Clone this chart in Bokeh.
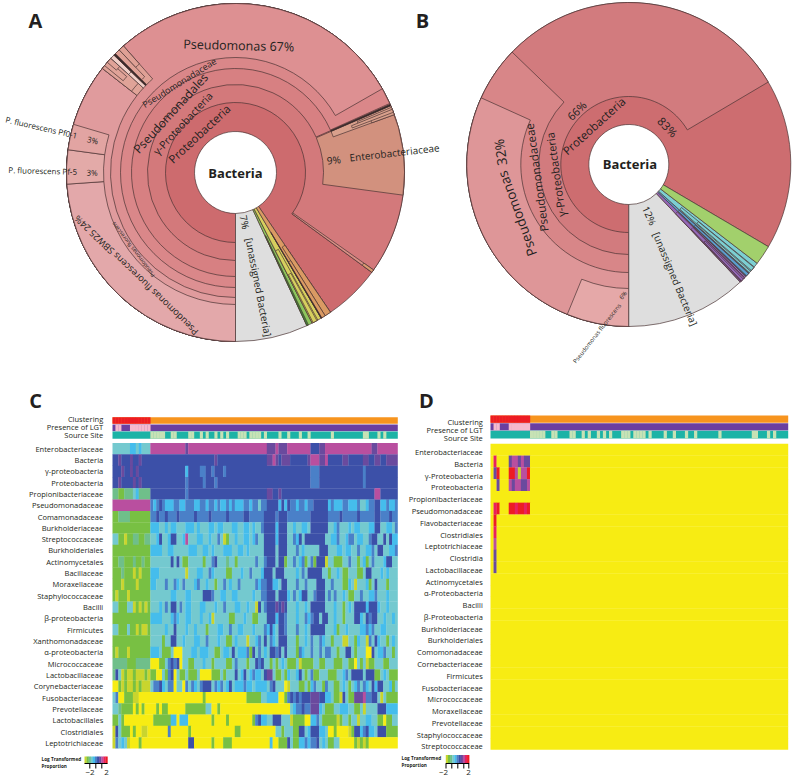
import math, re
from bokeh.plotting import figure
from bokeh.models import ColumnDataSource, Range1d
from bokeh.transform import linear_cmap
from bokeh.core.properties import value
from bokeh.embed import file_html
from bokeh.resources import INLINE

# ---------- DATA: panel A hierarchy (share of the circle in %, from the bottom, clockwise) ----------
a_names = ["Proteobacteria", "γ-Proteobacteria", "Pseudomonadales", "Pseudomonadaceae", "Pseudomonas",
           "Pseudomonas fluorescens", "SBW25", "Pf-5", "Pf0-1",
           "other a", "other a1", "other a2", "other a3", "other b", "other b1", "other c", "other d", "other d1", "other d2",
           "Enterobacteriaceae", "Entero strip", "Entero line", "Entero h1", "Entero h2", "Entero h3",
           "thin", "thin tip", "[unassigned Bacteria]", "green", "green dark", "yellow", "yellow h1", "yellow h2",
           "orange", "orange h1", "orange h2", "orange line"]
a_start = [0, 0, 0, 0, 0, 0, 0, 23.9, 27.15,
           35.56, 35.56, 35.9, 36.3, 36.81, 36.81, 37.22, 37.42, 37.42, 37.92,
           68.53, 68.53, 68.40, 68.70, 69.0, 68.9,
           84.78, 84.78, 93.06, 92.5, 92.9, 91.53, 91.9, 92.0,
           90.5, 90.5, 91.1, 91.47]
a_span = [90.5, 85.06, 68.4, 68.3, 66.75, 35.56, 23.9, 3.25, 2.45,
          1.25, 1.25, 0.6, 0.5, 0.41, 0.41, 0.2, 1.05, 0.5, 0.55,
          8.61, 0.91, 0.13, 0.3, 0.44, 0.3,
          0.28, 0.28, 6.94, 0.56, 0.16, 0.97, 0.6, 0.4,
          1.03, 0.6, 0.43, 0.08]
a_level = [1, 2, 3, 4, 5, 6, 7, 7, 7,
           6, 7, 8, 9, 6, 8, 6, 6, 7, 8,
           3, 4, 4, 7, 8, 6,
           2, 9, 1, 1, 2, 1, 3, 5,
           1, 3, 4, 2]

# ---------- DATA: panel B hierarchy ----------
b_names = ["Proteobacteria", "γ-Proteobacteria", "Pseudomonadaceae", "Pseudomonas", "Pseudomonas fluorescens",
           "[unassigned Bacteria]", "purple", "purple a", "purple b", "purple c", "blue", "blue a", "blue b",
           "teal", "teal a", "teal b", "green"]
b_start = [0, 0, 0, 0, 0, 87.92, 87.14, 87.3, 87.35, 87.5, 86.64, 86.7, 86.75, 85.44, 85.9, 85.95, 83.47]
b_span = [83.47, 66.5, 37.2, 31.75, 6.2, 12.08, 0.78, 0.6, 0.45, 0.25, 0.5, 0.4, 0.3, 1.2, 0.55, 0.4, 1.97]
b_level = [1, 2, 3, 4, 5, 1, 1, 2, 3, 4, 1, 2, 3, 1, 2, 3, 1]

# ---------- DATA: heat maps (run-length: class letter + number of samples) ----------
heat_classes = "YyGgtcbBPMRr"
heat_values = [-2.75, -2.25, -1.75, -1.25, -0.75, -0.25, 0.25, 0.75, 1.25, 1.75, 2.25, 2.75]

c_labels = ["Enterobacteriaceae", "Bacteria", "γ-proteobacteria", "Proteobacteria", "Propionibacteriaceae",
            "Pseudomonadaceae", "Comamonadaceae", "Burkholderiaceae", "Streptococcaceae", "Burkholderiales",
            "Actinomycetales", "Bacillaceae", "Moraxellaceae", "Staphylococcaceae", "Bacilli", "β-proteobacteria",
            "Firmicutes", "Xanthomonadaceae", "α-proteobacteria", "Micrococcaceae", "Lactobacillaceae",
            "Corynebacteriaceae", "Fusobacteriaceae", "Prevotellaceae", "Lactobacillales", "Clostridiales",
            "Leptotrichiaceae"]
c_rows = [
 "t6c2t1c1t3 M12P1M27P3M1P3M8B3P2M16P2M7",
 "B2P1B3P1B2P1B3 B22P1B17P2M1P1B1P3B6P1M3P2M1B5P2B5P2B2P2B2P4",
 "B3P1B2P1B1P1B4 B12c1B4b2B2b1B3b1B29b3B15b1B11",
 "B2P1B4P1B1P1B3 B12b1B5b1B3b1B32b3B15b1B11",
 "g2G2g3t1c1g4 B12b1B27P2B2P1B32M2B6",
 "M13 b1c1b1B1b1c3b2c2b3c2b2c1b2c1b1c2b1c1b1c3b2c1b2t1b2B4c1B1c1B1b2c1b2c1b2B5c1b1c3b2c3b1t2c1b2B2c2b1c2b2",
 "G2g4G7 b2B1b2B1b3B1b5B1b4B1b5B1b5B2b5B4b1B3b8B6b4B1b5B1b5B2b3B1b3",
 "G13 c3t2c1t1c2t3c3t1c1t3c2t1c2t3c2t2c2t1c1t2b1B4c1B3t2c1t2c2t1B6t2c1b1t3c1t1c2t3c2B2t2c2t1b1t1",
 "t2G2y1G2g2G2g2 t2c1B1t2c1B2t2c1M1t3c2t2c1t2b1t1y1G1t2c1t2c2t1c1b1t2B4c1B3t2b1c1B1t1B7t2c2b1t2c1b2t1c2t2b1B2t2B1t1B1c2",
 "G13 c4t2c2t5c3t2c2t1c1t3c3t2c2t1c1t2t3B4t1B3t3b1t1c1t2t3B3t3c2t1c2t2b1t2c2b1t1B2t2c2b1t2",
 "G2g2G3g1G2g1G2 t7B1t1B1t1G2t5G1t2b1B1t3g1t2G1t3t3b1t2b1B3t1B2G1t2b1t1c1b1G1t1b1G1B3y1t2G3t2b1t2G1t1c1G1t1b1t3c1B2t2",
 "G3g1G3y1G1y1G3 c3t9y1t3c2t2b1c1t4G2t3c1t2b1t3c1B3t1B3t4c1t1b1t1B5t2G1t2c1t1G2t3G2t1B2t3c1t1c1t1",
 "G3y1G4y1G4 c2t3b1t2b1c1t1b1t3c1b1t2c1t2G1t2b1t1c1t2b1t3t2b1c1b1b1B2c2t1B2t3b1t2b1t3B3t2b1t3G2c1t1y1t3c1G1t1B1t3G1t3",
 "G1y1G3y1G7 t7c2t3c2t4B3b1t2c2t2c2t2t3c1t2b1b1B3t1B3c1t1b1t1c1B2t2b1B3t1b1t1b1t2c1t1G2t2b1t2c2b1t3c1t3",
 "t2G3t2y1G1y1G1y1G1 t3c1t1b1t1B2t1b1t1c2t3c2t3c1t2b1t3c2t2c1t2y1B1t1b1B3P1B1P1B1t3c1t2c1t1B5t3c1t2G1t1c1t1B4c1B3c1t2c1t3",
 "G13 c4t3c1b1c1t2c2t3c1t2c1y1t5G2t3c1t2G2t2t1B3c1B2b1t3c1t2b1c1b1B2t1B2t2c1t2G1t2t1B2c1t1B1b1B2t2c1t2c1t1",
 "t2G3t1G2y1G1y2G1 t5c1t2B1t3c1t2c1t3G1t3c2t2b1t2c2t3c1t2t1b1c1B1c1t1B2b1t3b1t2c1t1B5t3c1G1t2c1t2t2c2b1c1b1t2c2t3t1",
 "G13 t4G1t2B2t2c1t3c2t2b1t3c1t2G2t1c1t1t2y1t2c1b1t1B1t1b1c1t1B3t3G1t2c1t1b1t2b1c1t2G1t2t1y2t2G1c1t2y1b1t1B1c1t2G1t1c1t1",
 "G1y1G3y1G7 c3t1G3t1Y3t3c2t1c3t2G2t1c2t1B1t1c3b1G1B1t1b1t1c1t1B2b1B1t1B1t3G1b1c1t2b1t2b1t1b2t2G1t1t1B2t1G1t2t1Y2B1t1c2b1t2G1t1t1",
 "g5G3g5 Y3G2t1b1B1b1B1Y1t2G2t3c1t2G1t1t3G2t1b1t3G1t2B1b1B1t2G1t1G1t1c1t1G3t1y1G4t2G2t3G3t2G2Y1t1G1t1y1G2t3G2t3",
 "g1B1t1y1G1y2G1y3G1y1 G2Y2t1G1b1B1Y1t1G2t1G3t1Y4G3t1G1t1t2B1t1c1B1t1c1b1c2t1B1P2t1G2t1G1c1t2c1B1t1G1t1b1G2t1t2G3t2c1b1t1B4t1B3G2t1c1t1G2",
 "Y2G1y1G1y2G1y1G1y3 t1b2B1c1t1b2Y1t2Y1b1t1b1c1t1b1B3t1b1c1b1t1c1B1t1c3b1c2t1c3c1t1b1B1t1t2Y1y1t3G2t1G1c1b1t2G1b1t2G2t1c1t1G1t1c1b1t1b1c1t1B1c1B2t2c1G1t1G1",
 "t1b1Y2G3y2Y4 Y18G1Y14G5t2c4Y2G1b1B1b1B1b1B3P3B2c2t1G2y1B1t1G2P3M1b2B2t1y1t1G4",
 "t2g1G4Y1G1Y1G1Y2 Y2G1Y1G2Y6G7t2Y2G1Y24t1c1b2B1b2P3c1t1G3t2c3t2G2t1y1t4B3c4",
 "G2t1G1Y9 Y1G6c2Y1c3Y8G1Y4G1Y8G1b1B1c2t2B3t3y1G4Y2c2b1t1G5y1G1t2G1t2y1t2c2t2G2Y1G2t2",
 "y1B1t1G3Y1G1Y2y2Y1 Y6b1Y6G1Y15G2Y12t2G1t3G2B2t1c1B3c2t1Y2G1Y4y1G1B2c1b1B1c2t1B3G4",
 "y1b1t1c1t1y1Y3G1Y3 Y13B2Y6G1Y3G3Y13c1Y2G3B1t1G2c2b1c1b2B1t1c1t1G2t2Y5G1y1G1y1G1Y10",
]

d_labels = ["Enterobacteriaceae", "Bacteria", "γ-Proteobacteria", "Proteobacteria", "Propionibacteriaceae",
            "Pseudomonadaceae", "Flavobacteriaceae", "Clostridiales", "Leptotrichiaceae", "Clostridia",
            "Lactobacillaceae", "Actinomycetales", "α-Proteobacteria", "Bacilli", "β-Proteobacteria",
            "Burkholderiaceae", "Burkholderiales", "Comomonadaceae", "Cornebacteriaceae", "Firmicutes",
            "Fusobacteriaceae", "Micrococcaceae", "Moraxellaceae", "Prevotellaceae", "Staphylococcaceae",
            "Streptococcaceae"]
d_rows = ["Y98", "Y1R1Y4P1M2P1M1P2Y85", "Y1P1r1Y3r2M1y1M2r1Y85", "Y2P1Y3M1P1M2P2M1Y85", "Y98",
          "Y1R1r1Y3r2R1r2R1r1Y85", "Y1r1Y96", "Y1R1Y96", "Y1M1Y96", "Y1P1Y96", "Y1P1Y96"] + ["Y98"] * 15

n_samples = 98
n_cluster_1 = 13
lgt_pink_samples = [1, 2, 6, 7, 8, 9, 10, 11, 12]
site_pale_samples = [13, 14, 15, 16, 17, 20, 21, 26, 27, 30, 32, 35, 37, 39, 43, 44, 45, 47, 48, 49, 50, 52,
                     57, 60, 64, 67, 75, 86, 87, 91, 93]
annotation_labels = ["Clustering", "Presence of LGT", "Source Site"]

# ---------- STYLE ----------
a_colors = ["#cd6b6e", "#d3797b", "#d78082", "#da8789", "#dd9092", "#e09b9d", "#e3a8aa", "#e3aaa8", "#e2a4a2",
            "#e0a398", "#e0a398", "#e0a398", "#e0a398", "#f0cfc8", "#f0cfc8", "#3a2a2a", "#dfa095", "#dfa095", "#dfa095",
            "#d2917e", "#d9a08c", "#222222", "#d9a08c", "#d9a08c", "#d9a08c",
            "#d88f85", "#d99a70", "#dedede", "#8cc65c", "#3f8a3a", "#d6cf5e", "#d6cf5e", "#d6cf5e",
            "#da9a63", "#da9a63", "#da9a63", "#222222"]
b_colors = ["#cd6d70", "#d27b7e", "#d88688", "#de9698", "#e5a8a8", "#dedede",
            "#9468b8", "#9468b8", "#9468b8", "#9468b8", "#5b9ecf", "#5b9ecf", "#5b9ecf",
            "#7ccfd2", "#7ccfd2", "#7ccfd2", "#a2d06c"]
a_inner = [0, 41, 70, 88, 104, 115, 125, 132, 145, 157]
b_inner = [0, 40, 68, 90, 108, 124]
heat_palette = ["#f7ec13", "#c9d52e", "#78c043", "#6fbf8a", "#74c9cf", "#45bdec", "#4a80c8", "#3c50a8",
                "#6a4a9e", "#b94f9f", "#e8205f", "#ed1c24"]
FONT = value("Open Sans")
INK = "#231f20"

W, H = 794, 779
def Y(py):
    return 779 - py

p = figure(width=W, height=H, x_range=Range1d(0, 794), y_range=Range1d(0, 779),
           toolbar_location=None, output_backend="svg", min_border=0)
p.axis.visible = False
p.grid.visible = False
p.outline_line_color = None
p.background_fill_color = "white"
p.border_fill_color = "white"

def sunburst(names, start, span, level, colors, inner, cx, cy, R):
    src = ColumnDataSource(dict(
        x=[cx] * len(names), y=[Y(cy)] * len(names), name=names,
        ri=[inner[l] for l in level], ro=[R] * len(names),
        a0=[math.radians(270 - 3.6 * (s + w)) for s, w in zip(start, span)],
        a1=[math.radians(270 - 3.6 * s) for s in start],
        c=colors))
    p.annular_wedge(x="x", y="y", inner_radius="ri", outer_radius="ro", start_angle="a0", end_angle="a1",
                    fill_color="c", line_color="#4b3434", line_width=0.7, source=src)

sunburst(a_names, a_start, a_span, a_level, a_colors, a_inner, 235, 172, 169)
sunburst(b_names, b_start, b_span, b_level, b_colors, b_inner, 628.3, 164, 162)

def labels(items, align="center", bold=False, color=INK):
    src = ColumnDataSource(dict(x=[i[0] for i in items], y=[Y(i[1]) for i in items], t=[i[2] for i in items],
                                a=[math.radians(i[3]) for i in items], s=["%.1fpx" % i[4] for i in items]))
    p.text(x="x", y="y", text="t", angle="a", text_font_size="s", text_font=FONT, text_align=align,
           text_baseline="middle", text_color=color, text_font_style="bold" if bold else "normal", source=src)

def polar(cx, cy, r, th, txt, rot, size):
    return (cx + r * math.cos(math.radians(th)), cy - r * math.sin(math.radians(th)), txt, rot, size)

labels([
    polar(235, 172, 53, 133, "Proteobacteria", 43, 11.5),
    polar(235, 172, 72, 137, "γ-Proteobacteria", 47, 10.5),
    polar(235, 172, 88, 137.5, "Pseudomonadales", 47.5, 12),
    polar(235, 172, 106, 122, "Pseudomonadaceae", 32, 9),
    polar(235, 172, 127, 88.5, "Pseudomonas 67%", -1.5, 12.5),
    (41, 126.7, "P. fluorescens Pf0-1", -13, 8),
    (92.3, 139.3, "3%", -13, 8),
    (42.3, 170, "P. fluorescens Pf-5", -1.5, 8),
    (91.7, 171.7, "3%", -1.5, 8),
    polar(235, 172, 143, 226, "Pseudomonas fluorescens SBW25 24%", 136, 9.3),
    polar(235, 172, 128, 217, "Pseudomonas fluorescens", 127, 5.5),
    (333.3, 159.3, "9%", 6.5, 10),
    (394, 152, "Enterobacteriaceae", 6.5, 10),
    (244.3, 221.7, "7%", -79, 10),
    (258.3, 286.7, "[unassigned Bacteria]", -79, 10),
    polar(628.3, 164, 52, 132, "Proteobacteria", 42, 11.5),
    polar(628.3, 164, 54, 44, "83%", -46, 11.5),
    polar(628.3, 164, 74, 188, "γ-Proteobacteria", 98, 11),
    polar(628.3, 164, 75, 134, "66%", 44, 11),
    polar(628.3, 164, 93, 188, "Pseudomonadaceae", 98, 11.5),
    (516.7, 213, "Pseudomonas", 110, 13.5),
    (500, 151.7, "32%", 98, 13.5),
    (649, 215, "12%", -65, 10),
    (675, 278.3, "[unassigned Bacteria]", -67.4, 10),
    (596.7, 333, "Pseudomonas fluorescens", 52, 6),
    (622.7, 295, "6%", 52, 6),
])
labels([(235, 172.5, "Bacteria", 0, 13), (629.5, 163.5, "Bacteria", 0, 13),
        (35, 19.5, "A", 0, 20), (422, 19.5, "B", 0, 20), (35, 399.5, "C", 0, 20), (426, 399.5, "D", 0, 20)], bold=True)

def decode(rows):
    out = []
    for row in rows:
        vals = []
        for ch, n in re.findall(r"([A-Za-z])(\d+)", row):
            vals += [heat_values[heat_classes.index(ch)]] * int(n)
        vals = (vals + vals[-1:] * n_samples)[:n_samples]
        out.append(vals)
    return out

def heat(rows, x0, x1, y0, y1):
    m = decode(rows)
    cw = (x1 - x0) / n_samples
    rh = (y1 - y0) / len(m)
    L, Rr, T, B, V = [], [], [], [], []
    for i, vals in enumerate(m):
        j = 0
        while j < n_samples:
            k = j
            while k + 1 < n_samples and vals[k + 1] == vals[j]:
                k += 1
            L.append(x0 + j * cw)
            Rr.append(min(x0 + (k + 1) * cw + 0.25, x1))
            T.append(Y(y0 + i * rh))
            B.append(Y(min(y0 + (i + 1) * rh + 0.25, y1)))
            V.append(vals[j])
            j = k + 1
    p.quad(left="left", right="right", top="top", bottom="bottom", line_color=None,
           fill_color=linear_cmap("v", heat_palette, low=-3, high=3),
           source=ColumnDataSource(dict(left=L, right=Rr, top=T, bottom=B, v=V)))

def bar(samples, x0, x1, y0, y1, base, alt):
    cw = (x1 - x0) / n_samples
    p.quad(left=[x0], right=[x1], top=[Y(y0)], bottom=[Y(y1)], fill_color=base, line_color=None)
    if samples:
        p.quad(left=[x0 + s * cw for s in samples], right=[x0 + (s + 1) * cw + 0.2 for s in samples],
               top=[Y(y0)] * len(samples), bottom=[Y(y1)] * len(samples), fill_color=alt, line_color=None)

def panel(rows, names, x0, x1, y0, y1, lab_x, ann, ann_lab_y, lab_shift):
    bar(list(range(n_cluster_1)), x0, x1, ann[0][0], ann[0][1], "#f7941e", "#ed1c24")
    bar(lgt_pink_samples, x0, x1, ann[1][0], ann[1][1], "#6b3fa0", "#f6b9cd")
    bar(site_pale_samples, x0, x1, ann[2][0], ann[2][1], "#1cb3a6", "#c7e2b5")
    heat(rows, x0, x1, y0, y1)
    rh = (y1 - y0) / len(rows)
    labels([(lab_x, y0 + (i + 0.5) * rh + lab_shift, n, 0, 7.5) for i, n in enumerate(names)], align="right")
    labels([(lab_x, yy, n, 0, 7.5) for yy, n in zip(ann_lab_y, annotation_labels)], align="right")

panel(c_rows, c_labels, 112, 397.3, 442.5, 748, 102.7,
      [(416.7, 423.3), (424, 430.7), (431, 438.3)], [418, 426, 434.7], 0)
panel(d_rows, d_labels, 490, 787.7, 443.3, 749.3, 482.3,
      [(415, 422.3), (422.7, 430), (430.3, 438)], [421.7, 429.7, 437.7], 2.5)

def scale_key(x0, x1, y0, y1, ticks, txt_x, txt_y, lab1, lab2, lab_y):
    lv = heat_values[1:]
    cw = (x1 - x0) / len(lv)
    L = [x0 + i * cw for i in range(len(lv))]
    R_ = [x0 + (i + 1) * cw + 0.2 for i in range(len(lv))]
    p.quad(left="left", right="right", top="top", bottom="bottom", line_color=None,
           fill_color=linear_cmap("v", heat_palette, low=-3, high=3),
           source=ColumnDataSource(dict(left=L, right=R_, top=[Y(y0)] * len(lv), bottom=[Y(y1)] * len(lv), v=lv)))
    p.segment(x0=[x0], x1=[x1], y0=[Y(y1)], y1=[Y(y1)], line_color="black", line_width=1)
    p.segment(x0=ticks, x1=ticks, y0=[Y(y1)] * len(ticks), y1=[Y(y1 + 5)] * len(ticks), line_color="black", line_width=1)
    labels([(txt_x, txt_y, "Log Transformed", 0, 4.7), (txt_x, txt_y + 7, "Proportion", 0, 4.7)], align="left", bold=True)
    labels([(lab1, lab_y, "−2", 0, 8), (lab2, lab_y, "2", 0, 8)])

scale_key(84, 107, 756, 763, [89.3, 95.3, 101.3], 41, 758.3, 89.5, 106, 772)
scale_key(445.3, 468.7, 754.5, 763, [445.5, 451.3, 457.3, 463.3, 468.3], 401, 757, 443, 468, 772)

open("out.html", "w").write(file_html(p, INLINE))
